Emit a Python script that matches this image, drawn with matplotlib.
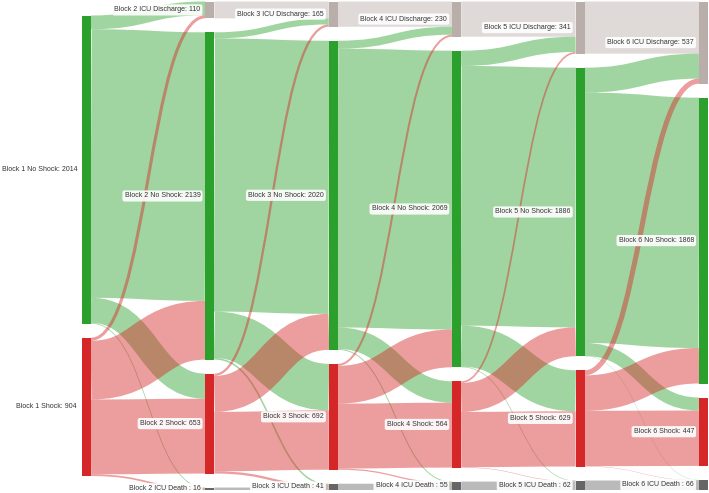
import matplotlib
matplotlib.use("Agg")
import matplotlib.pyplot as plt
from matplotlib.path import Path
from matplotlib.patches import PathPatch, Rectangle

plt.rcParams["font.family"] = ["Liberation Sans", "DejaVu Sans"]

# ---------------------------------------------------------------------------
# Data (patients per block state)
# ---------------------------------------------------------------------------
blocks = [1, 2, 3, 4, 5, 6]
no_shock = [2014, 2139, 2020, 2069, 1886, 1868]
shock = [904, 653, 692, 564, 629, 447]
discharge = [0, 110, 165, 230, 341, 537]   # cumulative, none in block 1
death = [0, 16, 41, 55, 62, 66]            # cumulative, none in block 1

# flows block b -> b+1, targets ordered [discharge, no shock, shock, death]
from_no_shock = [
    [90, 1755, 164, 5],
    [40, 1785, 304, 10],
    [52, 1822, 140, 6],
    [100, 1697, 268, 4],
    [163, 1636, 85, 2],
]
from_shock = [
    [20, 384, 489, 11],
    [15, 235, 388, 15],
    [13, 247, 424, 8],
    [11, 189, 361, 3],
    [33, 232, 362, 2],
]

# ---------------------------------------------------------------------------
# Style / layout
# ---------------------------------------------------------------------------
W, H, DPI = 709, 493, 100
NODE_W = 9
X_FIRST, X_LAST = 82, 699
TOP, BOTTOM = 1.5, 490
GAP = 14
ALPHA = 0.45

COLOURS = {"D": "#b9aeaa", "NS": "#2ca02c", "S": "#d62728", "X": "#666666"}
ORDER = ["D", "NS", "S", "X"]

total = no_shock[0] + shock[0]
k = (BOTTOM - TOP - 3 * GAP) / total      # px per patient
centre = (TOP + BOTTOM) / 2

xs = [X_FIRST + i * (X_LAST - X_FIRST) / (len(blocks) - 1) for i in range(len(blocks))]

# node positions
nodes = []
for i, b in enumerate(blocks):
    vals = {"D": discharge[i], "NS": no_shock[i], "S": shock[i], "X": death[i]}
    keys = [t for t in ORDER if vals[t] > 0]
    extent = sum(vals[t] for t in keys) * k + GAP * (len(keys) - 1)
    y = centre - extent / 2
    col = {}
    for t in keys:
        h = vals[t] * k
        col[t] = [y, y + h, vals[t]]
        y += h + GAP
    nodes.append(col)

fig = plt.figure(figsize=(W / DPI, H / DPI), dpi=DPI)
ax = fig.add_axes([0, 0, 1, 1])
ax.set_xlim(0, W)
ax.set_ylim(H, 0)
ax.axis("off")

# links
for i in range(len(blocks) - 1):
    src, tgt = nodes[i], nodes[i + 1]
    out_off = {t: v[0] for t, v in src.items()}
    in_off = {t: v[0] for t, v in tgt.items()}
    links = []
    if "D" in src:
        links.append(("D", "D", src["D"][2]))
    for j, t in enumerate(ORDER):
        links.append(("NS", t, from_no_shock[i][j]))
    for j, t in enumerate(ORDER):
        links.append(("S", t, from_shock[i][j]))
    if "X" in src:
        links.append(("X", "X", src["X"][2]))

    x0 = xs[i] + NODE_W
    x1 = xs[i + 1]
    xm = (x0 + x1) / 2
    for s, t, v in links:
        w = v * k
        y0 = out_off[s] + w / 2
        y1 = in_off[t] + w / 2
        out_off[s] += w
        in_off[t] += w
        path = Path([(x0, y0), (xm, y0), (xm, y1), (x1, y1)],
                    [Path.MOVETO, Path.CURVE4, Path.CURVE4, Path.CURVE4])
        ax.add_patch(PathPatch(path, fill=False, edgecolor=COLOURS[s],
                               alpha=ALPHA, lw=w * 72 / DPI,
                               capstyle="butt", zorder=1))

# nodes + labels
names = {"D": "ICU Discharge: ", "NS": "No Shock: ", "S": "Shock: ", "X": "ICU Death : "}
for i, b in enumerate(blocks):
    for t, (y0, y1, v) in nodes[i].items():
        ax.add_patch(Rectangle((xs[i], y0), NODE_W, y1 - y0,
                               facecolor=COLOURS[t], edgecolor="none", zorder=2))
        ax.text(xs[i] - 5, (y0 + y1) / 2, f"Block {b} {names[t]}{v}",
                ha="right", va="center", fontsize=5.0, color="#333333", zorder=3,
                bbox=dict(boxstyle="round,pad=0.3,rounding_size=0.3",
                          facecolor="white", edgecolor="none", alpha=0.9))

fig.savefig("out.png", dpi=DPI)
